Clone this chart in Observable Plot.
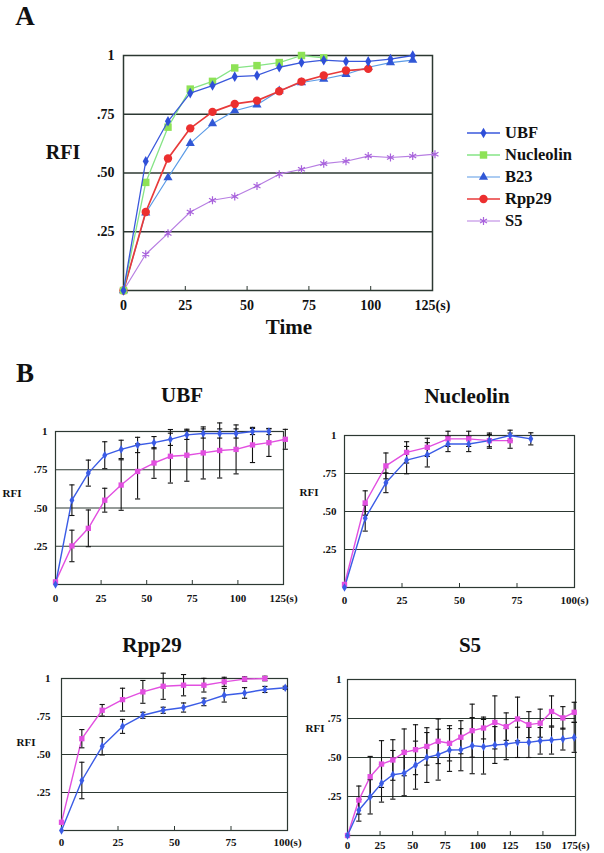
<!DOCTYPE html>
<html><head><meta charset="utf-8">
<script src="https://cdn.jsdelivr.net/npm/d3@7"></script>
<script src="https://cdn.jsdelivr.net/npm/@observablehq/plot@0.6"></script>
<style>
body{margin:0;background:#fff;}
#root{position:relative;width:604px;height:853px;overflow:hidden;font-family:"Liberation Serif","Times New Roman",serif;font-weight:bold;color:#111;}
.lbl{position:absolute;white-space:nowrap;line-height:1;}
</style></head><body><div id="root"></div>
<script>
// ---------- Panel A data ----------
const seriesNamesA = ["UBF","Nucleolin","B23","Rpp29","S5"];
const tA_UBF = [0,9,18,27,36,45,54,63,72,81,90,99,108,117];
const A_UBF  = [0,0.55,0.72,0.84,0.872,0.91,0.915,0.95,0.97,0.98,0.975,0.975,0.985,1.0];
const tA_Nuc = [0,9,18,27,36,45,54,63,72,81];
const A_Nuc  = [0,0.46,0.695,0.857,0.89,0.947,0.957,0.97,1.0,0.99];
const tA_B23 = [0,9,18,27,36,45,54,63,72,81,90,99,108,117];
const A_B23  = [0,0.33,0.48,0.626,0.71,0.765,0.79,0.85,0.885,0.9,0.92,0.95,0.97,0.98];
const tA_Rpp = [0,9,18,27,36,45,54,63,72,81,90,99];
const A_Rpp  = [0,0.334,0.562,0.69,0.76,0.794,0.808,0.848,0.889,0.915,0.936,0.943];
const tA_S5  = [0,9,18,27,36,45,54,63,72,81,90,99,108,117,126];
const A_S5   = [0,0.154,0.243,0.334,0.384,0.40,0.445,0.495,0.516,0.54,0.55,0.572,0.566,0.572,0.58];

// ---------- Panel B data (blue = first series, pink = second) ----------
const tB_UBF_blue = [0,9,18,27,36,45,54,63,72,81,90,99,108,117];
const B_UBF_blue  = [0,0.551,0.728,0.845,0.883,0.912,0.927,0.949,0.978,0.987,0.987,0.987,1.0,1.0];
const E_UBF_blue  = [0,0.1,0.085,0.088,0.06,0.05,0.04,0.04,0.03,0.03,0.03,0.03,0.02,0.02];
const tB_UBF_pink = [0,9,18,27,36,45,54,63,72,81,90,99,108,117,126];
const B_UBF_pink  = [0.017,0.252,0.367,0.551,0.65,0.739,0.794,0.838,0.845,0.86,0.876,0.883,0.912,0.927,0.949];
const E_UBF_pink  = [0,0.103,0.12,0.078,0.165,0.18,0.1,0.175,0.17,0.17,0.18,0.16,0.115,0.09,0.065];

const tB_Nuc_blue = [0,9,18,27,36,45,54,63,72,81];
const B_Nuc_blue  = [0,0.456,0.689,0.838,0.873,0.944,0.944,0.966,1.0,0.978];
const E_Nuc_blue  = [0,0.085,0.065,0.09,0.08,0.05,0.05,0.04,0.035,0.04];
const tB_Nuc_pink = [0,9,18,27,36,45,54,63,72];
const B_Nuc_pink  = [0.02,0.556,0.8,0.889,0.922,0.978,0.978,0.966,0.966];
const E_Nuc_pink  = [0,0.08,0.085,0.07,0.06,0.05,0.05,0.05,0.05];

const tB_Rpp_blue = [0,9,18,27,36,45,54,63,72,81,90,99];
const B_Rpp_blue  = [0,0.329,0.554,0.685,0.758,0.791,0.809,0.846,0.89,0.905,0.928,0.939];
const E_Rpp_blue  = [0,0.12,0.057,0.046,0.02,0.02,0.03,0.025,0.045,0.035,0.02,0.01];
const tB_Rpp_pink = [0,9,18,27,36,45,54,63,72,81,90];
const B_Rpp_pink  = [0.054,0.604,0.791,0.861,0.912,0.949,0.956,0.956,0.978,0.996,1.0];
const E_Rpp_pink  = [0,0.06,0.038,0.075,0.075,0.086,0.07,0.045,0.03,0.015,0.015];

const tB_S5 = [0,8.7,17.4,26.1,34.8,43.5,52.2,60.9,69.6,78.3,87,95.7,104.4,113.1,121.8,130.5,139.2,147.9,156.6,165.3,174];
const B_S5_blue = [0,0.162,0.248,0.334,0.389,0.4,0.451,0.5,0.518,0.548,0.55,0.576,0.569,0.58,0.586,0.597,0.597,0.607,0.612,0.618,0.629];
const E_S5_blue = [0,0.07,0.11,0.12,0.156,0.145,0.154,0.16,0.163,0.137,0.135,0.18,0.175,0.118,0.1,0.097,0.097,0.085,0.09,0.07,0.096];
const B_S5_pink = [0,0.227,0.377,0.458,0.484,0.533,0.55,0.571,0.604,0.591,0.63,0.672,0.689,0.725,0.698,0.747,0.711,0.72,0.795,0.754,0.79];
const E_S5_pink = [0,0.09,0.13,0.15,0.13,0.15,0.16,0.12,0.143,0.113,0.106,0.17,0.07,0.17,0.088,0.14,0.083,0.09,0.1,0.072,0.064];

// ---------- tick labels ----------
const yTickVals = [0.25,0.5,0.75,1];
const yGrid = [0.25,0.5,0.75];
const xTicks125 = [0,25,50,75,100,125];
const xTicks100 = [0,25,50,75,100];
const xTicks175 = [0,25,50,75,100,125,150,175];

// ---------- styles ----------
const FONT = '"Liberation Serif","Times New Roman",serif';
const gridColor = "#2c3832";
const blueB = "#3b5ce6", pinkB = "#e24fe0";
const styleA = {
  UBF:{color:"#2f4fd8", line:"#3a58dc", symbol:"diamond", r:3.2, stroke:false, lw:1.3},
  Nucleolin:{color:"#8ee256", line:"#86e486", symbol:"square", r:4.2, stroke:false, lw:1.3},
  B23:{color:"#3158d6", line:"#5a9ae6", symbol:"triangle", r:3.4, stroke:false, lw:1.2},
  Rpp29:{color:"#ec2f2f", line:"#e83a3a", symbol:"circle", r:4.2, stroke:false, lw:1.7},
  S5:{color:"#a862dc", line:"#b77ee2", symbol:"asterisk", r:3.8, stroke:true, lw:1.2}
};
const dataA = {
  UBF:[tA_UBF,A_UBF], Nucleolin:[tA_Nuc,A_Nuc], B23:[tA_B23,A_B23], Rpp29:[tA_Rpp,A_Rpp], S5:[tA_S5,A_S5]
};

const root = document.getElementById("root");
function addText(txt, x, y, size, anchor) {
  const d = document.createElement("div");
  d.className = "lbl"; d.textContent = txt;
  d.style.fontSize = size + "px";
  d.style.left = x + "px"; d.style.top = y + "px";
  d.style.transform = anchor === "start" ? "translate(0,-50%)" : "translate(-50%,-50%)";
  root.append(d);
  return d;
}
const fmtY = d => d === 1 ? "1" : d3.format(".2f")(d).slice(1);
const cap = {draw(ctx, size){ const r = Math.sqrt(size/Math.PI); ctx.moveTo(-r,0); ctx.lineTo(r,0); }};

function drawPanel(cfg) {
  const {x0,x1,y0,y1,xmax,xticks,fs,padX,padY,layers,gridW} = cfg;
  const mL=70, mR=50, mT=20, mB=35;
  const w = x1-x0, h = y1-y0;
  const marks = [
    Plot.ruleY(yGrid, {stroke:gridColor, strokeWidth:gridW}),
    Plot.frame({stroke:gridColor, strokeWidth:gridW}),
    Plot.ruleX(xticks.slice(1,-1), {y1:0, y2:4/h, stroke:gridColor, strokeWidth:1}),
    Plot.axisY({ticks:yTickVals, tickFormat:fmtY, tickSize:0, tickPadding:padY, label:null, fontSize:fs, fontWeight:"bold"}),
    Plot.axisX({ticks:xticks, tickFormat:d => d === xmax ? d + "(s)" : String(d), tickSize:0, tickPadding:padX, label:null, fontSize:fs, fontWeight:"bold"}),
    ...layers
  ];
  const svg = Plot.plot({
    width:w+mL+mR, height:h+mT+mB,
    marginLeft:mL, marginRight:mR, marginTop:mT, marginBottom:mB,
    x:{domain:[0,xmax]}, y:{domain:[0,1]},
    style:{fontFamily:FONT, fontWeight:"bold", fontSize:fs+"px", color:"#111", background:"transparent", overflow:"visible"},
    marks
  });
  svg.style.position = "absolute";
  svg.style.left = (x0-mL) + "px";
  svg.style.top = (y0-mT) + "px";
  root.append(svg);
}

// ---------- Panel A ----------
const drawOrderA = ["S5","B23","Rpp29","Nucleolin","UBF"];
const layersA = [];
for (const n of drawOrderA) {
  const [t,v] = dataA[n]; const s = styleA[n];
  const d = t.map((x,i)=>({t:x, v:v[i]}));
  layersA.push(Plot.line(d, {x:"t", y:"v", stroke:s.line, strokeWidth:s.lw}));
  layersA.push(s.stroke
    ? Plot.dot(d, {x:"t", y:"v", symbol:s.symbol, r:s.r, stroke:s.color, strokeWidth:1.2})
    : Plot.dot(d, {x:"t", y:"v", symbol:s.symbol, r:s.r, fill:s.color}));
}
drawPanel({x0:123,x1:432,y0:55,y1:290,xmax:125,xticks:xTicks125,fs:14,padX:10,padY:9,layers:layersA,gridW:1.5});

// legend
seriesNamesA.forEach((n,i) => {
  const s = styleA[n];
  const y = 133 + i*22;
  const svg = d3.create("svg").attr("width",40).attr("height",16)
    .style("position","absolute").style("left","464px").style("top",(y-8)+"px").style("overflow","visible");
  svg.append("line").attr("x1",3).attr("x2",36).attr("y1",8).attr("y2",8).attr("stroke",s.line).attr("stroke-width",s.lw);
  const sym = {diamond:d3.symbolDiamond, square:d3.symbolSquare, triangle:d3.symbolTriangle, circle:d3.symbolCircle, asterisk:d3.symbolAsterisk}[s.symbol];
  const p = svg.append("path").attr("transform","translate(19.5,8)").attr("d", d3.symbol(sym, Math.PI*s.r*s.r)());
  if (s.stroke) p.attr("fill","none").attr("stroke",s.color).attr("stroke-width",1.2); else p.attr("fill",s.color);
  root.append(svg.node());
  addText(n, 505, y, 16.5, "start");
});

addText("A", 25, 16, 27);
addText("RFI", 63, 152, 20);
addText("Time", 289, 327, 21);
addText("B", 25, 373, 27);

// ---------- Panel B ----------
function bSeries(t, v, e, color, sym, r) {
  const d = t.map((x,i)=>({t:x, v:v[i], e:e[i]}));
  const de = d.filter(q => q.e > 0);
  return {
    line: Plot.line(d, {x:"t", y:"v", stroke:color, strokeWidth:1.4}),
    err: [
      Plot.ruleX(de, {x:"t", y1:q=>q.v-q.e, y2:q=>q.v+q.e, stroke:"#111", strokeWidth:1.1}),
      Plot.dot(de, {x:"t", y:q=>q.v+q.e, symbol:cap, r:2.6, fill:"none", stroke:"#111", strokeWidth:1.1}),
      Plot.dot(de, {x:"t", y:q=>q.v-q.e, symbol:cap, r:2.6, fill:"none", stroke:"#111", strokeWidth:1.1})
    ],
    dots: Plot.dot(d, {x:"t", y:"v", symbol:sym, r, fill:color})
  };
}
function bLayers(a, b) {
  return [a.line, b.line, ...a.err, ...b.err, a.dots, b.dots];
}

drawPanel({x0:55,x1:283,y0:431,y1:584,xmax:125,xticks:xTicks125,fs:11,padX:10,padY:8,gridW:1.2,
  layers:bLayers(
    bSeries(tB_UBF_pink,B_UBF_pink,E_UBF_pink,pinkB,"square",3),
    bSeries(tB_UBF_blue,B_UBF_blue,E_UBF_blue,blueB,"diamond",2.6))});
drawPanel({x0:344,x1:574,y0:435,y1:587,xmax:100,xticks:xTicks100,fs:11,padX:9,padY:8,gridW:1.2,
  layers:bLayers(
    bSeries(tB_Nuc_pink,B_Nuc_pink,E_Nuc_pink,pinkB,"square",3),
    bSeries(tB_Nuc_blue,B_Nuc_blue,E_Nuc_blue,blueB,"diamond",2.6))});
drawPanel({x0:61,x1:287,y0:678,y1:830,xmax:100,xticks:xTicks100,fs:11,padX:8,padY:11,gridW:1.2,
  layers:bLayers(
    bSeries(tB_Rpp_pink,B_Rpp_pink,E_Rpp_pink,pinkB,"square",3),
    bSeries(tB_Rpp_blue,B_Rpp_blue,E_Rpp_blue,blueB,"diamond",2.6))});
drawPanel({x0:347,x1:575,y0:679,y1:835,xmax:175,xticks:xTicks175,fs:11,padX:6,padY:6,gridW:1.2,
  layers:bLayers(
    bSeries(tB_S5,B_S5_pink,E_S5_pink,pinkB,"square",3),
    bSeries(tB_S5,B_S5_blue,E_S5_blue,blueB,"diamond",2.6))});

addText("UBF", 182, 395, 21);
addText("Nucleolin", 467, 396, 21);
addText("Rpp29", 152, 645, 21);
addText("S5", 470, 645, 21);
addText("RFI", 12, 493, 11);
addText("RFI", 309, 492, 11);
addText("RFI", 26, 742, 11);
addText("RFI", 315, 728, 11);
</script></body></html>
